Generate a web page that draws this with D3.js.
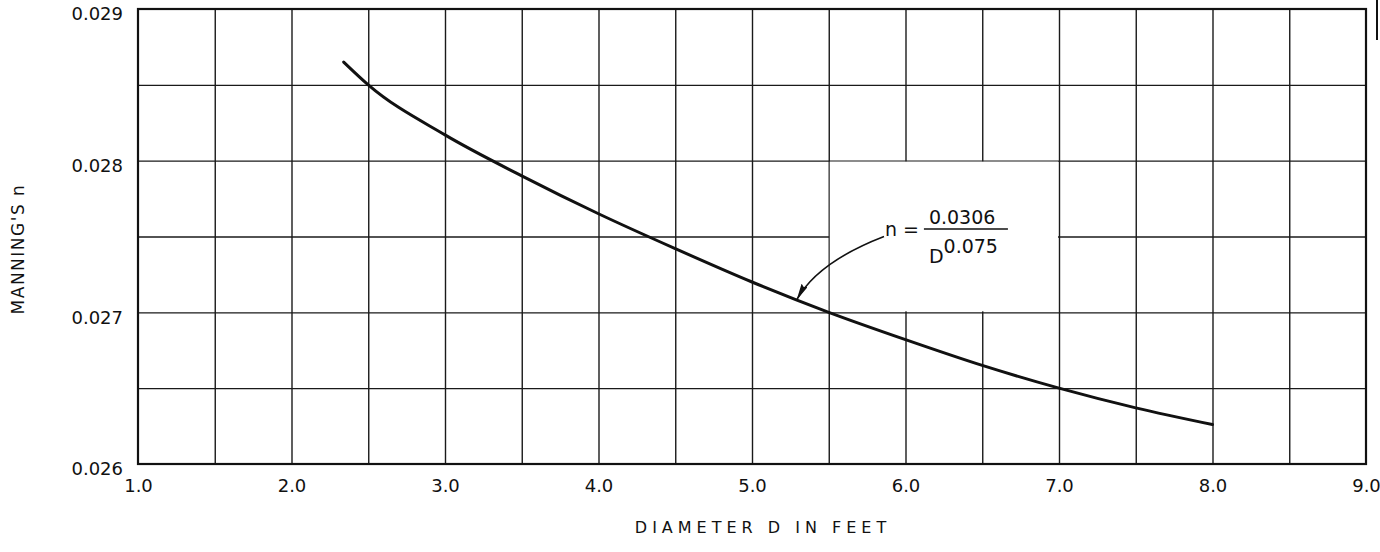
<!DOCTYPE html>
<html>
<head>
<meta charset="utf-8">
<script src="https://cdn.jsdelivr.net/npm/d3@7"></script>
<style>
  body { margin: 0; background: #fff; }
  text { font-family: "DejaVu Sans", sans-serif; fill: #111; }
</style>
</head>
<body>
<svg id="chart" width="1380" height="552"></svg>
<script>
// curve (diameter in feet, Manning's n)
const diameter = [2.34, 2.5, 3.0, 3.5, 4.0, 4.5, 5.0, 5.5, 6.0, 6.5, 7.0, 7.5, 8.0];
const manningN = [0.02865, 0.0285, 0.02817, 0.0279, 0.02765, 0.02742, 0.0272, 0.027, 0.02682, 0.02665, 0.0265, 0.02637, 0.02626];

const xTickLabels = [1, 2, 3, 4, 5, 6, 7, 8, 9];
const yTickLabels = [0.026, 0.027, 0.028, 0.029];
const xGridValues = [1.5, 2, 2.5, 3, 3.5, 4, 4.5, 5, 5.5, 6, 6.5, 7, 7.5, 8, 8.5];
const yGridValues = [0.0265, 0.027, 0.0275, 0.028, 0.0285];

// blank box behind the formula, and the arrow (data units)
const noteBox = { x0: 5.5, x1: 7.0, y0: 0.027, y1: 0.028 };
const arrowPts = { start: [5.86, 0.02750], mid: [5.5, 0.02731], tip: [5.29, 0.02708] };
const formulaAt = [6.12, 0.02755];

const svg = d3.select('#chart');
const margin = { left: 138, right: 14, top: 9, bottom: 88 };
const width = 1380 - margin.left - margin.right;
const height = 552 - margin.top - margin.bottom;

const x = d3.scaleLinear().domain([1, 9]).range([0, width]);
const y = d3.scaleLinear().domain([0.026, 0.029]).range([height, 0]);

const defs = svg.append('defs');
defs.append('marker')
  .attr('id', 'head')
  .attr('viewBox', '0 0 17 7')
  .attr('refX', 17).attr('refY', 3.5)
  .attr('markerUnits', 'userSpaceOnUse')
  .attr('markerWidth', 17).attr('markerHeight', 7)
  .attr('orient', 'auto')
  .append('path')
  .attr('d', 'M0,0 L17,3.5 L0,7 L2,3.5 Z')
  .attr('fill', '#111');

const g = svg.append('g').attr('transform', `translate(${margin.left},${margin.top})`);

// grid
const gridX = g.append('g')
  .attr('transform', `translate(0,${height})`)
  .call(d3.axisBottom(x).tickValues(xGridValues).tickSize(-height).tickFormat(''));
const gridY = g.append('g')
  .call(d3.axisLeft(y).tickValues(yGridValues).tickSize(-width).tickFormat(''));
[gridX, gridY].forEach(a => {
  a.select('.domain').remove();
  a.selectAll('line').attr('stroke', '#1a1a1a').attr('stroke-width', 1.4);
});

// clear the grid where the formula sits
g.append('rect')
  .attr('x', x(noteBox.x0) + 1)
  .attr('y', y(noteBox.y1) + 1)
  .attr('width', x(noteBox.x1) - x(noteBox.x0) - 2)
  .attr('height', y(noteBox.y0) - y(noteBox.y1) - 2)
  .attr('fill', '#fff');

// frame
g.append('rect')
  .attr('width', width).attr('height', height)
  .attr('fill', 'none').attr('stroke', '#111').attr('stroke-width', 2.2);

// tick labels
const xAxis = g.append('g')
  .attr('transform', `translate(0,${height})`)
  .call(d3.axisBottom(x).tickValues(xTickLabels).tickSize(0).tickPadding(15).tickFormat(d3.format('.1f')));
const yAxis = g.append('g')
  .call(d3.axisLeft(y).tickValues(yTickLabels).tickSize(0).tickPadding(15).tickFormat(d3.format('.3f')));
[xAxis, yAxis].forEach(a => {
  a.select('.domain').remove();
  a.selectAll('text').style('font-size', '18px').attr('fill', '#111');
});
yAxis.selectAll('text').attr('dy', '0.6em');

// the curve
const pts = diameter.map((d, i) => [d, manningN[i]]);
g.append('path')
  .datum(pts)
  .attr('fill', 'none')
  .attr('stroke', '#111')
  .attr('stroke-width', 3)
  .attr('stroke-linecap', 'round')
  .attr('d', d3.line().x(d => x(d[0])).y(d => y(d[1])).curve(d3.curveMonotoneX));

// arrow to the curve
const s = [x(arrowPts.start[0]), y(arrowPts.start[1])];
const m = [x(arrowPts.mid[0]), y(arrowPts.mid[1])];
const t = [x(arrowPts.tip[0]), y(arrowPts.tip[1])];
const c = [2 * m[0] - (s[0] + t[0]) / 2, 2 * m[1] - (s[1] + t[1]) / 2];
const p = d3.path();
p.moveTo(s[0], s[1]);
p.quadraticCurveTo(c[0], c[1], t[0], t[1]);
g.append('path')
  .attr('d', p.toString())
  .attr('fill', 'none')
  .attr('stroke', '#111')
  .attr('stroke-width', 1.6)
  .attr('marker-end', 'url(#head)');

// formula n = 0.0306 / D^0.075
const fx = x(formulaAt[0]);
const fy = y(formulaAt[1]);
const note = g.append('g').style('font-size', '19px');
note.append('text').attr('x', fx - 5).attr('y', fy + 7).attr('text-anchor', 'end').text('n =');
note.append('text').attr('x', fx + 5).attr('y', fy - 5).text('0.0306');
note.append('line')
  .attr('x1', fx).attr('x2', fx + 84)
  .attr('y1', fy).attr('y2', fy)
  .attr('stroke', '#111').attr('stroke-width', 1.5);
const den = note.append('text').attr('x', fx + 5).attr('y', fy + 34);
den.append('tspan').text('D');
den.append('tspan').attr('dy', -10).text('0.075');

// axis titles
svg.append('text')
  .attr('x', 763)
  .attr('y', 533)
  .attr('text-anchor', 'middle')
  .style('font-size', '16px')
  .style('letter-spacing', '5px')
  .text('DIAMETER D IN FEET');

svg.append('text')
  .attr('transform', 'translate(24,249) rotate(-90)')
  .attr('text-anchor', 'middle')
  .style('font-size', '17px')
  .style('letter-spacing', '1.5px')
  .text("MANNING'S n");

// scan mark at the top right edge
svg.append('line')
  .attr('x1', 1377).attr('x2', 1377)
  .attr('y1', 0).attr('y2', 40)
  .attr('stroke', '#111').attr('stroke-width', 2);
</script>
</body>
</html>
